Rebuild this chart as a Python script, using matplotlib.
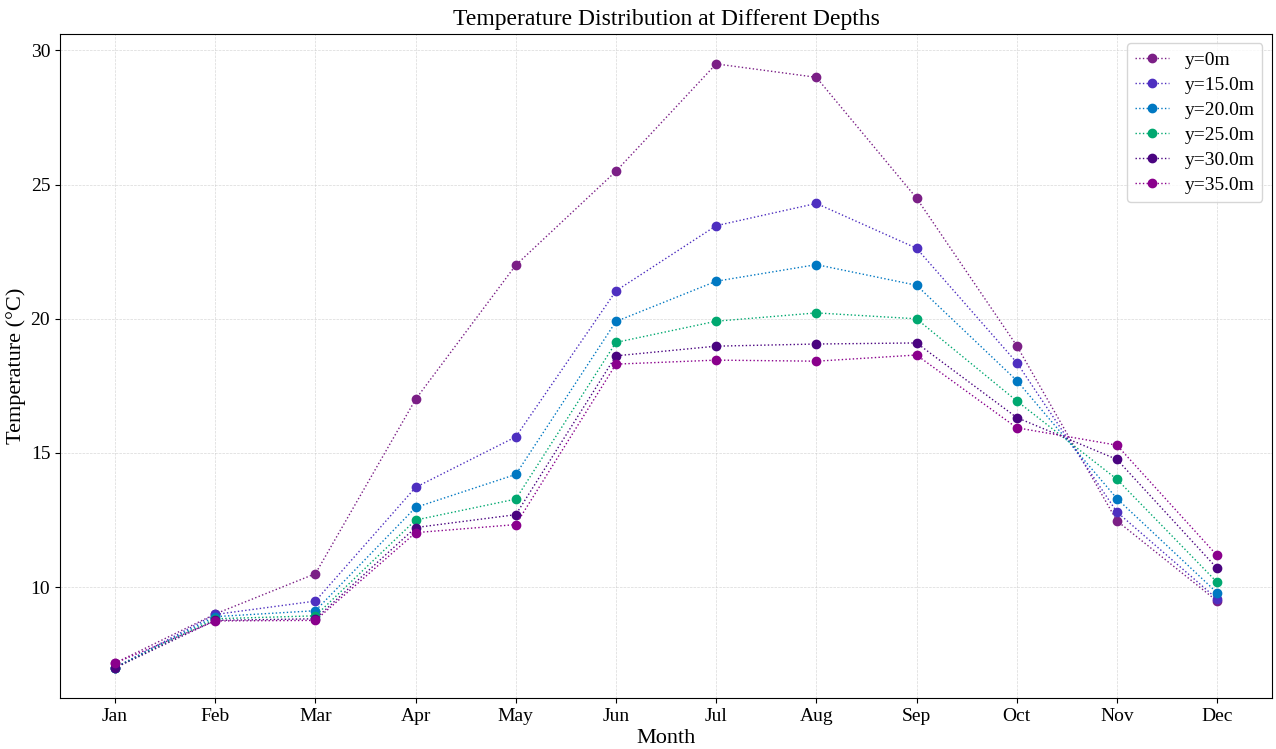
import matplotlib
matplotlib.use("Agg")
import matplotlib.pyplot as plt

plt.rcParams['font.family'] = ['Liberation Serif', 'DejaVu Serif']

months = ['Jan', 'Feb', 'Mar', 'Apr', 'May', 'Jun', 'Jul', 'Aug', 'Sep', 'Oct', 'Nov', 'Dec']
depth_labels = ['y=0m', 'y=15.0m', 'y=20.0m', 'y=25.0m', 'y=30.0m', 'y=35.0m']

temp_0 = [7.17, 9.0, 10.5, 17.0, 22.0, 25.5, 29.5, 29.0, 24.5, 19.0, 12.47, 9.48]
temp_15 = [7.0, 8.98, 9.48, 13.72, 15.6, 21.04, 23.47, 24.3, 22.63, 18.37, 12.8, 9.56]
temp_20 = [7.0, 8.9, 9.12, 12.97, 14.2, 19.9, 21.4, 22.02, 21.25, 17.7, 13.3, 9.79]
temp_25 = [7.0, 8.82, 8.93, 12.5, 13.28, 19.12, 19.91, 20.22, 20.0, 16.94, 14.02, 10.18]
temp_30 = [6.99, 8.76, 8.82, 12.22, 12.7, 18.62, 18.98, 19.06, 19.1, 16.32, 14.76, 10.7]
temp_35 = [7.17, 8.74, 8.76, 12.03, 12.33, 18.31, 18.46, 18.42, 18.65, 15.94, 15.29, 11.18]

colors = ['#7b1f86', '#4e2fc0', '#0078c2', '#00a870', '#4a0480', '#8a008c']

fig, ax = plt.subplots(figsize=(12.76, 7.49), dpi=100)

series = [temp_0, temp_15, temp_20, temp_25, temp_30, temp_35]
for temps, label, c in zip(series, depth_labels, colors):
    ax.plot(months, temps, linestyle=':', linewidth=1, marker='o', markersize=6,
            color=c, label=label)

ax.set_title('Temperature Distribution at Different Depths', fontsize=17)
ax.set_xlabel('Month', fontsize=16, labelpad=3)
ax.set_ylabel('Temperature (°C)', fontsize=16, labelpad=3)
ax.tick_params(labelsize=14)
ax.grid(True, linestyle='--', linewidth=0.5, color='#c8c8c8', alpha=0.7)
ax.legend(fontsize=14, loc='upper right', labelspacing=0.38, handlelength=1.75)

fig.subplots_adjust(left=0.047, right=0.997, top=0.955, bottom=0.068)
plt.savefig('out.png', dpi=100)
